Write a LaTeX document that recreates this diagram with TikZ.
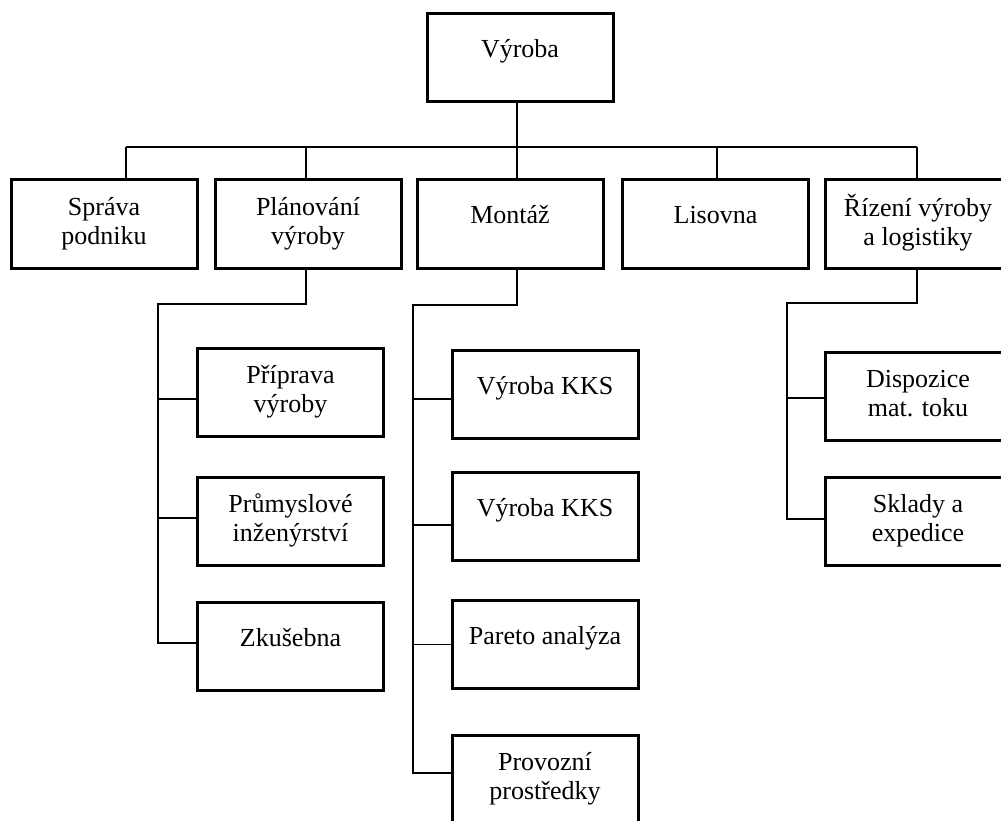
\documentclass[tikz,border=0pt]{standalone}
\usepackage{fontspec}
\setmainfont{Liberation Serif}
\newcommand\twolines[2]{\strut #1\\\strut #2}
\begin{document}
\begin{tikzpicture}[x=1pt,y=-1pt,
  unit/.style={draw=black, line width=3pt, fill=white, minimum width=186pt,
    minimum height=88pt, inner sep=0pt, align=center,
    font=\fontsize{26}{29}\selectfont},
  oneline/.style={text height=14pt, text depth=14pt},
  link/.style={draw=black, line width=1.3pt}]
\useasboundingbox (0,0) rectangle (1001,821);
\clip (0,0) rectangle (1001,821);
\fill[white] (0,0) rectangle (1001,821);

% top level
\node[unit, oneline] (V) at (520,58) {Výroba};

% departments
\node[unit] (S) at (104,224) {\twolines{Správa}{podniku}};
\node[unit] (P) at (308,224) {\twolines{Plánování}{výroby}};
\node[unit, oneline] (M) at (510,224) {Montáž};
\node[unit, oneline] (L) at (715.5,224) {Lisovna};
\node[unit] (R) at (918,224) {\twolines{Řízení výroby}{a logistiky}};

% sections of production planning
\node[unit] (P1) at (290.5,392.5) {\twolines{Příprava}{výroby}};
\node[unit] (P2) at (290.5,521) {\twolines{Průmyslové}{inženýrství}};
\node[unit, oneline] (P3) at (290.5,646) {Zkušebna};

% sections of assembly
\node[unit, oneline] (M1) at (545,394) {Výroba KKS};
\node[unit, oneline] (M2) at (545,516.5) {Výroba KKS};
\node[unit, oneline] (M3) at (545,644.5) {Pareto analýza};
\node[unit] (M4) at (545,779) {\twolines{Provozní}{prostředky}};

% sections of production control and logistics
\node[unit] (R1) at (918,396.5) {\twolines{Dispozice}{mat. toku}};
\node[unit] (R2) at (918,521) {\twolines{Sklady a}{expedice}};

% main bus below the top box
\coordinate (bus) at (0,147);
\draw[link] ([xshift=-3pt]V.south) -- ([xshift=-3pt]V.south |- bus);
\coordinate (sTop) at ([xshift=22pt]S.north);
\coordinate (pTop) at ([xshift=-2pt]P.north);
\coordinate (mTop) at ([xshift=7pt]M.north);
\coordinate (lTop) at ([xshift=1.5pt]L.north);
\coordinate (rTop) at ([xshift=-1pt]R.north);
\draw[link] (sTop |- bus) -- (rTop |- bus);
\foreach \t in {sTop,pTop,mTop,lTop,rTop}
  \draw[link] (\t) -- (\t |- bus);

% production planning branch
\coordinate (pTrunk) at (158,304);
\coordinate (p1in) at ([yshift=-6.5pt]P1.west);
\coordinate (p2in) at ([yshift=3pt]P2.west);
\coordinate (p3in) at ([yshift=3pt]P3.west);
\draw[link] ([xshift=-2pt]P.south) |- (pTrunk) |- (p3in);
\draw[link] (pTrunk |- p1in) -- (p1in);
\draw[link] (pTrunk |- p2in) -- (p2in);

% assembly branch
\coordinate (mTrunk) at (413,305);
\coordinate (m1in) at ([yshift=-5pt]M1.west);
\coordinate (m2in) at ([yshift=-8.5pt]M2.west);
\coordinate (m3in) at (M3.west);
\coordinate (m4in) at ([yshift=6pt]M4.west);
\draw[link] ([xshift=7pt]M.south) |- (mTrunk) |- (m4in);
\draw[link] (mTrunk |- m1in) -- (m1in);
\draw[link] (mTrunk |- m2in) -- (m2in);
\draw[link] (mTrunk |- m3in) -- (m3in);

% logistics branch
\coordinate (rTrunk) at (787,303);
\coordinate (r1in) at ([yshift=-1.5pt]R1.west);
\coordinate (r2in) at ([yshift=2pt]R2.west);
\draw[link] ([xshift=-1pt]R.south) |- (rTrunk) |- (r2in);
\draw[link] (rTrunk |- r1in) -- (r1in);
\end{tikzpicture}
\end{document}
